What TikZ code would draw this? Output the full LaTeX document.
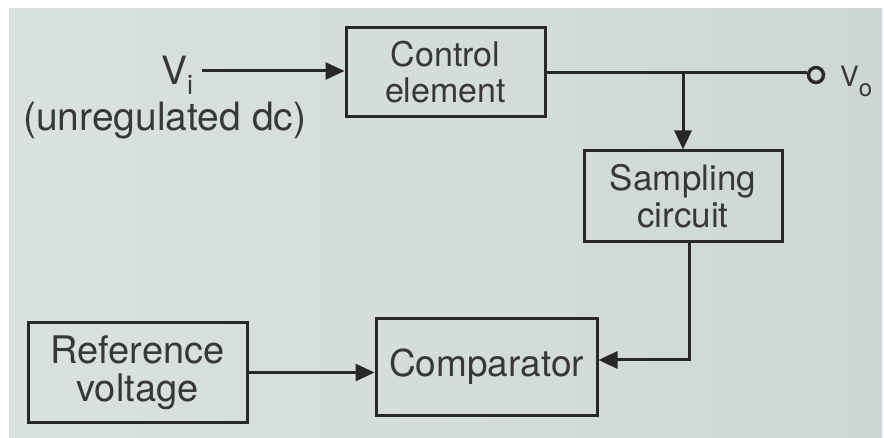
\documentclass[tikz,border=0pt]{standalone}
\usepackage{fontspec}
\setmainfont{TeX Gyre Heros}
\usetikzlibrary{arrows.meta}
\definecolor{paperL}{HTML}{DAE2DF}
\definecolor{paperR}{HTML}{CDD8D5}
\definecolor{ink}{HTML}{282828}
\definecolor{type}{HTML}{383838}
\newcommand{\fsz}[2]{\fontsize{#1}{#2}\selectfont}

\begin{document}
\begin{tikzpicture}[x=1pt,y=-1pt,
  blockbox/.style={draw=ink, line width=3pt, rectangle, inner sep=0pt,
                   align=center, text=type},
  wire/.style={draw=ink, line width=3pt},
  arr/.style={wire, -{Triangle[length=19pt,width=17pt]}},
  label/.style={text=type, inner sep=0pt}]

  % page
  \useasboundingbox (0,0) rectangle (884,438);
  \fill[white] (0,0) rectangle (884,438);
  \shade[left color=paperL, right color=paperR] (9,9) rectangle (882,438);

  % blocks
  \node[blockbox, minimum width=199pt, minimum height=89pt,
        font=\fsz{34}{36}] (ctrl) at (445.5,72.5) {Control\\element};
  \node[blockbox, minimum width=198pt, minimum height=91pt,
        font=\fsz{35}{37}] (samp) at (683,196.5) {Sampling\\circuit};
  \node[blockbox, minimum width=221pt, minimum height=96pt,
        font=\fsz{37}{38}] (comp) at (486.5,367) {Comparator};
  \node[blockbox, minimum width=219pt, minimum height=99pt,
        font=\fsz{38}{38}] (ref) at (137.5,372.5) {Reference\\voltage};

  % input and output terminals
  \node[label, anchor=base west, font=\fsz{39}{39}] (vi) at (161,85)
       {V\raisebox{-10pt}{\fsz{27}{27}i}};
  \node[label, anchor=base west, font=\fsz{39}{39}] (unreg) at (23,131)
       {(unregulated dc)};
  \coordinate (vin) at (202,71);
  \node[circle, draw=ink, line width=3.4pt, minimum size=15pt, inner sep=0pt]
       (vo) at (816,75) {};
  \node[label, anchor=base west, font=\fsz{28}{28}] (volab) at (840,87)
       {V\raisebox{-10pt}{\fsz{24}{24}o}};
  \coordinate (fb) at (689,360);

  % signal paths
  \draw[arr] (vin) -- (vin -| ctrl.west);
  \draw[wire] (ctrl.east) -- (ctrl.east -| vo.west);
  \draw[arr] (samp.north |- ctrl.east) -- (samp.north);
  \draw[arr] (samp.south -| fb) -- (fb) -- (fb -| comp.east);
  \draw[arr] (ref.east) -- (ref.east -| comp.west);
\end{tikzpicture}
\end{document}
